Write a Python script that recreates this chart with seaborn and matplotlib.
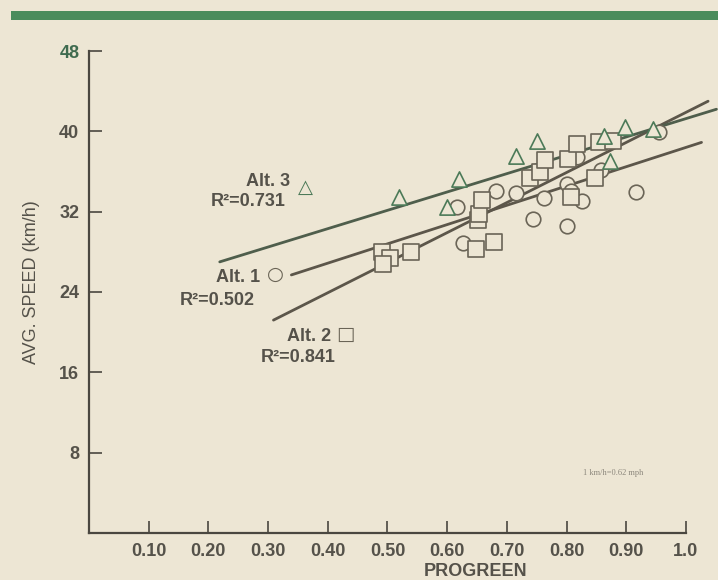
import matplotlib
matplotlib.use("Agg")
import matplotlib.pyplot as plt
import matplotlib.patches as patches
import seaborn as sns
import pandas as pd

# Datos: PROGREEN vs velocidad media (km/h)
alt1_progreen = [0.616, 0.626, 0.682, 0.716, 0.743, 0.762, 0.800, 0.800,
                 0.807, 0.826, 0.817, 0.857, 0.917, 0.955]
alt1_speed = [32.5, 28.9, 34.1, 33.9, 31.3, 33.4, 30.6, 34.8,
              34.1, 33.1, 37.4, 36.1, 34.0, 39.9]

alt2_progreen = [0.490, 0.505, 0.492, 0.540, 0.648, 0.678, 0.651, 0.654, 0.658,
                 0.738, 0.755, 0.764, 0.803, 0.808, 0.817, 0.848, 0.855, 0.878]
alt2_speed = [28.0, 27.4, 26.8, 28.0, 28.3, 29.0, 31.2, 31.8, 33.2,
              35.4, 36.0, 37.1, 37.2, 33.5, 38.7, 35.4, 38.9, 39.0]

alt3_progreen = [0.520, 0.600, 0.619, 0.716, 0.750, 0.862, 0.872, 0.898, 0.944]
alt3_speed = [33.5, 32.5, 35.3, 37.5, 39.0, 39.5, 37.0, 40.4, 40.2]

# Rectas de regresión (extremos)
alt1_fit_x = [0.339, 1.026]
alt1_fit_y = [25.7, 38.9]
alt2_fit_x = [0.309, 1.037]
alt2_fit_y = [21.2, 43.0]
alt3_fit_x = [0.219, 1.051]
alt3_fit_y = [27.0, 42.2]

x_ticks = [0.1, 0.2, 0.3, 0.4, 0.5, 0.6, 0.7, 0.8, 0.9, 1.0]
x_tick_labels = ["0.10", "0.20", "0.30", "0.40", "0.50",
                 "0.60", "0.70", "0.80", "0.90", "1.0"]
y_ticks = [8, 16, 24, 32, 40, 48]

# Colores
BG = "#ede6d4"
INK = "#55524a"
GREEN = "#4c7a58"

sns.set_style("ticks")
plt.rcParams["font.family"] = ["Liberation Sans", "DejaVu Sans"]

fig = plt.figure(figsize=(7.18, 5.80), dpi=100, facecolor=BG)
ax = fig.add_axes([89 / 718, 47 / 580, 629 / 718, 482 / 580])
ax.set_facecolor(BG)

# Barra verde superior
fig.patches.append(patches.Rectangle((11 / 718, 0.9655), 1 - 11 / 718, 0.0155,
                                     transform=fig.transFigure,
                                     facecolor="#4a8c5c", edgecolor="none"))

# Rectas
sns.lineplot(x=alt1_fit_x, y=alt1_fit_y, ax=ax, color="#5c564a",
             linewidth=2.0, sort=False, estimator=None, zorder=2)
sns.lineplot(x=alt2_fit_x, y=alt2_fit_y, ax=ax, color="#5c564a",
             linewidth=2.0, sort=False, estimator=None, zorder=2)
sns.lineplot(x=alt3_fit_x, y=alt3_fit_y, ax=ax, color="#4f5e4c",
             linewidth=2.0, sort=False, estimator=None, zorder=2)

# Puntos
df1 = pd.DataFrame({"x": alt1_progreen, "y": alt1_speed})
df2 = pd.DataFrame({"x": alt2_progreen, "y": alt2_speed})
df3 = pd.DataFrame({"x": alt3_progreen, "y": alt3_speed})
sns.scatterplot(data=df1, x="x", y="y", ax=ax, marker="o", s=110,
                color=BG, edgecolor="#6a6456", linewidth=1.2, zorder=3)
sns.scatterplot(data=df2, x="x", y="y", ax=ax, marker="s", s=120,
                color=BG, edgecolor="#6a6456", linewidth=1.2, zorder=3)
sns.scatterplot(data=df3, x="x", y="y", ax=ax, marker="^", s=120,
                color=BG, edgecolor=GREEN, linewidth=1.2, zorder=3)

# Etiquetas de las alternativas
txt = dict(fontsize=13, color=INK, fontweight="bold", ha="center", va="center")
sym = dict(fontsize=14, color="#6a6456", ha="center", va="center",
           family=["DejaVu Sans"])
ax.text(0.300, 35.0, "Alt. 3", **txt)
ax.text(0.362, 34.4, "△", **{**sym, "color": GREEN})
ax.text(0.267, 33.0, "R²=0.731", **txt)
ax.text(0.249, 25.4, "Alt. 1", **txt)
ax.text(0.312, 25.8, "○", **sym)
ax.text(0.215, 23.2, "R²=0.502", **txt)
ax.text(0.368, 19.6, "Alt. 2", **txt)
ax.text(0.430, 19.8, "□", **sym)
ax.text(0.350, 17.5, "R²=0.841", **txt)
ax.text(0.878, 6.0, "1 km/h=0.62 mph", fontsize=6, color="#8c877c",
        family=["Liberation Serif", "DejaVu Serif"], ha="center", va="center")

# Ejes
ax.set_xlim(0, 629 / 597)
ax.set_ylim(0, 48)
ax.set_xticks(x_ticks)
ax.set_xticklabels(x_tick_labels)
ax.set_yticks(y_ticks)
ax.tick_params(direction="in", length=9, width=1.2, color="#4a4740",
               labelsize=13, labelcolor=INK, pad=7)
for lab in ax.get_xticklabels() + ax.get_yticklabels():
    lab.set_fontweight("bold")
ax.get_yticklabels()[-1].set_color("#3f6b4f")
ax.spines["top"].set_visible(False)
ax.spines["right"].set_visible(False)
ax.spines["left"].set_color("#4a4740")
ax.spines["bottom"].set_color("#4a4740")
ax.spines["left"].set_linewidth(1.6)
ax.spines["bottom"].set_linewidth(1.6)
ax.spines["bottom"].set_bounds(0, 1.0)
ax.set_xlabel("PROGREEN", fontsize=13, color=INK, fontweight="bold")
ax.set_ylabel("AVG. SPEED (km/h)", fontsize=13, color=INK)
ax.xaxis.label.set_va("center")
ax.yaxis.label.set_va("center")
ax.xaxis.set_label_coords(387 / 629, -38 / 482)
ax.yaxis.set_label_coords(-57 / 629, 0.52)

fig.savefig("out.png", dpi=100, facecolor=BG)
